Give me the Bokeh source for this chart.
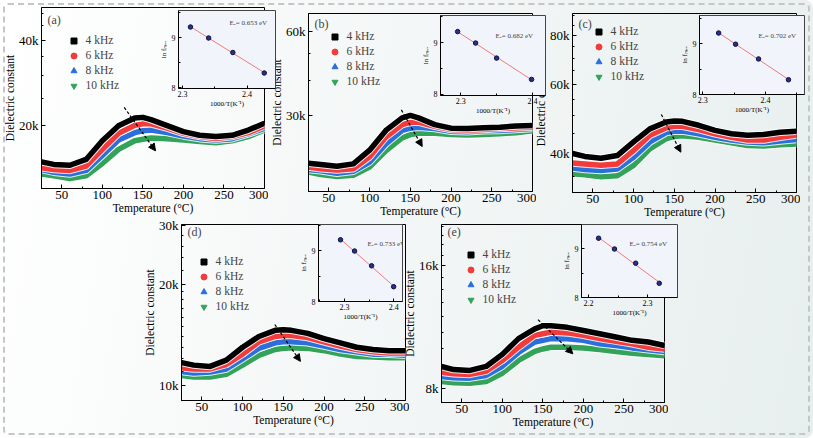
import numpy as np
from bokeh.plotting import figure
from bokeh.models import (FixedTicker, NumeralTickFormatter, Legend, LegendItem, Arrow,
                          NormalHead, Label, Column, Range1d)
from bokeh.embed import file_html
from bokeh.resources import INLINE

# ---------------- data ----------------
temps = [25, 40, 60, 80, 100, 120, 140, 150, 160, 180, 200, 220, 240, 260, 280, 300]
freq_labels = ["4 kHz", "6 kHz", "8 kHz", "10 kHz"]

a_4k = [14900, 14600, 14500, 15200, 17700, 20000, 21300, 21400, 21000, 20000, 19050, 18500, 18300, 18500, 19300, 20400]
a_6k = [14200, 14000, 13900, 14400, 16500, 18800, 20050, 20300, 20300, 19600, 18800, 18300, 18000, 18300, 18900, 19950]
a_8k = [14000, 13700, 13500, 13900, 15700, 17800, 18900, 19200, 19300, 18900, 18400, 18000, 17800, 18000, 18700, 19600]
a_10k = [13500, 13300, 13000, 13300, 14700, 16500, 17700, 17900, 18100, 18000, 17800, 17600, 17400, 17700, 18300, 19300]

b_4k = [20200, 20000, 19700, 20100, 22500, 26500, 29400, 30000, 29400, 27800, 27000, 26900, 27100, 27200, 27500, 27600]
b_6k = [19600, 19300, 19100, 19300, 21300, 25100, 27800, 28300, 28400, 27400, 26700, 26600, 26700, 26900, 27100, 27200]
b_8k = [19200, 19000, 18600, 18900, 20400, 23700, 26500, 27000, 27200, 26900, 26300, 26200, 26400, 26500, 26700, 26900]
b_10k = [18800, 18400, 18100, 18300, 19600, 22400, 24900, 25600, 25900, 25900, 25600, 25500, 25600, 25800, 26000, 26400]

c_4k = [40000, 39300, 38900, 39500, 42800, 46200, 48100, 48400, 48300, 47200, 45800, 44900, 44500, 44700, 45300, 45600]
c_6k = [37800, 37600, 37300, 37600, 40700, 44500, 46500, 46900, 46900, 46000, 44900, 44000, 43300, 43300, 44000, 44600]
c_8k = [36700, 36400, 36200, 36500, 39100, 42800, 45200, 45600, 45600, 44900, 44000, 43300, 42800, 42600, 43000, 43400]
c_10k = [35500, 35300, 34900, 35100, 37300, 41100, 43600, 44200, 44400, 44000, 43300, 42600, 41900, 41800, 42100, 42300]

d_4k = [11700, 11500, 11400, 11900, 13000, 14000, 14600, 14650, 14600, 14300, 13800, 13400, 13000, 12800, 12700, 12700]
d_6k = [11300, 11200, 11200, 11550, 12400, 13500, 14000, 14100, 14100, 13900, 13500, 13100, 12800, 12600, 12500, 12500]
d_8k = [11000, 10900, 10960, 11200, 12000, 12900, 13400, 13500, 13500, 13400, 13100, 12800, 12600, 12400, 12400, 12300]
d_10k = [10700, 10600, 10600, 10800, 11500, 12300, 12800, 12900, 12950, 12900, 12700, 12400, 12200, 12150, 12100, 12100]

e_4k = [9060, 8900, 8860, 9060, 9700, 10600, 11200, 11400, 11400, 11300, 11100, 10900, 10700, 10500, 10400, 10200]
e_6k = [8770, 8690, 8660, 8820, 9370, 10100, 10800, 10900, 11000, 10950, 10800, 10600, 10450, 10300, 10100, 10000]
e_8k = [8560, 8500, 8480, 8610, 9070, 9800, 10400, 10500, 10600, 10600, 10500, 10300, 10200, 10060, 9950, 9850]
e_10k = [8320, 8260, 8240, 8320, 8720, 9370, 9870, 10000, 10100, 10100, 10060, 9970, 9850, 9760, 9690, 9630]

# inset: ln f_max versus 1000/T  (10, 8, 6, 4 kHz)
lnf = [9.21, 8.99, 8.70, 8.29]
invT_a = [2.3125, 2.3406, 2.3780, 2.4266]
invT_b = [2.2958, 2.3208, 2.3500, 2.3986]
invT_c = [2.3254, 2.3524, 2.3889, 2.4365]
invT_d = [2.2918, 2.3204, 2.3551, 2.4000]
invT_e = [2.2170, 2.2440, 2.2800, 2.3200]
ea_texts = ["Eₐ= 0.653 eV", "Eₐ= 0.682 eV", "Eₐ= 0.702 eV", "Eₐ= 0.733 eV", "Eₐ= 0.754 eV"]

# arrows (temperature, permittivity) start -> end
arrow_a = [127, 23200, 165.6, 16300]
arrow_b = [139, 31400, 164.6, 23200]
arrow_c = [134, 50300, 158, 40300]
arrow_d = [139.5, 15200, 171, 11800]
arrow_e = [144, 11800, 187, 9730]

x_ticks = [50, 100, 150, 200, 250, 300]
x_minor = [25, 75, 125, 175, 225, 275]

# ---------------- style ----------------
FONT = "Liberation Serif"
colors = ["#000000", "#f23b3b", "#2a6fdc", "#34a35a"]
markers = ["square", "circle", "triangle", "inverted_triangle"]


def style_axis(ax, lab_size, tick_size, tin, mtin, lstand, astand):
    ax.major_tick_in = tin
    ax.major_tick_out = 0
    ax.minor_tick_in = mtin
    ax.minor_tick_out = 0
    ax.axis_line_color = "black"
    ax.major_tick_line_color = "black"
    ax.minor_tick_line_color = "black"
    ax.major_label_text_font = FONT
    ax.major_label_text_font_size = tick_size
    ax.major_label_text_color = "black"
    ax.axis_label_text_font = FONT
    ax.axis_label_text_font_size = lab_size
    ax.axis_label_text_font_style = "normal"
    ax.axis_label_text_color = "black"
    ax.major_label_standoff = lstand
    ax.axis_label_standoff = astand


def make_main(series, yr, yticks, yminor, fw, fh, left, top, btop, leg_xy, leg_sp, arrow, tag, tag_top):
    p = figure(frame_width=fw, frame_height=fh, x_range=Range1d(25, 300), y_range=Range1d(*yr),
               y_axis_type="log", output_backend="svg", toolbar_location=None,
               min_border_left=40, min_border_right=4, min_border_top=btop, min_border_bottom=30,
               styles={"position": "absolute", "left": f"{left}px", "top": f"{top}px"})
    p.background_fill_alpha = 0
    p.border_fill_alpha = 0
    p.outline_line_color = "black"
    p.outline_line_width = 1
    p.grid.visible = False
    p.xaxis.ticker = FixedTicker(ticks=x_ticks, minor_ticks=x_minor)
    p.yaxis.ticker = FixedTicker(ticks=yticks, minor_ticks=yminor)
    p.yaxis.formatter = NumeralTickFormatter(format="0a")
    p.xaxis.axis_label = "Temperature (°C)"
    p.yaxis.axis_label = "Dielectric constant"
    style_axis(p.xaxis[0], "11.5px", "13px", 4, 2, 2, 0)
    style_axis(p.yaxis[0], "11.5px", "13px", 4, 2, 3, 0)

    rends = [None] * 4
    for i in (3, 2, 1, 0):
        vals = series[i]
        p.line(temps, vals, line_color="white", line_alpha=0.85, line_width=7.5, line_join="round")
        p.line(temps, vals, line_color=colors[i], line_width=5.5, line_join="round")
        rends[i] = p.scatter(temps, vals, marker=markers[i], size=3,
                             fill_color=colors[i], line_color=colors[i])
    items = [LegendItem(label=freq_labels[i], renderers=[rends[i]]) for i in range(4)]
    leg = Legend(items=items, location=leg_xy, glyph_width=15, glyph_height=15,
                 label_height=14, label_standoff=5, spacing=leg_sp, padding=0, margin=0,
                 label_text_font=FONT, label_text_font_size="11.5px",
                 background_fill_alpha=0, border_line_alpha=0)
    p.add_layout(leg, "center")

    p.add_layout(Arrow(x_start=arrow[0], y_start=arrow[1], x_end=arrow[2], y_end=arrow[3],
                       line_color="black", line_width=1.2, line_dash="3 2",
                       end=NormalHead(size=7, fill_color="black", line_color="black")))
    p.add_layout(Label(x=6, y=fh - tag_top, x_units="screen", y_units="screen", text=tag,
                       text_font=FONT, text_font_size="12px", text_baseline="middle"))
    return p


def make_inset(xv, xr, yr, xticks, xminor, fw, fh, fleft, ftop, ea, ea_left, ea_top):
    q = figure(frame_width=fw, frame_height=fh, x_range=Range1d(*xr), y_range=Range1d(*yr),
               output_backend="svg", toolbar_location=None,
               min_border_left=24, min_border_top=2, min_border_right=24, min_border_bottom=22,
               styles={"position": "absolute", "left": f"{fleft - 24}px", "top": f"{ftop - 2}px"})
    q.background_fill_color = "#f1f5fb"
    q.border_fill_alpha = 0
    q.outline_line_color = "#444444"
    q.grid.visible = False
    q.xaxis.ticker = FixedTicker(ticks=xticks, minor_ticks=xminor)
    q.yaxis.ticker = FixedTicker(ticks=[8, 9], minor_ticks=[8.5, 9.5])
    q.xaxis.axis_label = "1000/T(K⁻¹)"
    q.yaxis.axis_label = "ln fₘₐₓ"
    style_axis(q.xaxis[0], "7px", "8px", 3, 2, 2, 0)
    style_axis(q.yaxis[0], "7px", "8px", 3, 2, 3, 1)
    coef = np.polyfit(xv, lnf, 1)
    xf = [min(xv), max(xv)]
    q.line(xf, list(np.polyval(coef, xf)), line_color="#f07a7a", line_width=1)
    q.scatter(xv, lnf, size=4.5, fill_color="#27308a", line_color="#0d1340")
    q.add_layout(Label(x=ea_left, y=fh - ea_top, x_units="screen", y_units="screen", text=ea,
                       text_font=FONT, text_font_size="7px", text_baseline="middle"))
    return q


pa = make_main([a_4k, a_6k, a_8k, a_10k], (12000, 52300), [20000, 40000],
               [15000, 25000, 30000, 35000, 45000, 50000], 223, 181, 0, 0, 7,
               (24.5, 95.5), -1, arrow_a, "(a)", 12)
pb = make_main([b_4k, b_6k, b_8k, b_10k], (16000, 69600), [30000, 60000],
               [20000, 40000, 50000], 224, 178, 267, 0, 13,
               (18.5, 102.5), -2, arrow_b, "(b)", 10)
pc = make_main([c_4k, c_6k, c_8k, c_10k], (31800, 91000), [40000, 60000, 80000],
               [35000, 45000, 50000, 55000, 65000, 70000, 75000, 85000, 90000], 224, 179, 531, 0, 13,
               (18.5, 108.5), -1, arrow_c, "(c)", 10)
pd_ = make_main([d_4k, d_6k, d_8k, d_10k], (9020, 30200), [10000, 20000, 30000],
                [11000, 12000, 13000, 14000, 15000, 16000, 17000, 18000, 19000, 22000, 24000, 26000, 28000],
                224, 176, 140, 210, 14, (14.5, 86.5), -1, arrow_d, "(d)", 7)
pe = make_main([e_4k, e_6k, e_8k, e_10k], (7390, 20200), [8000, 16000],
               [9000, 10000, 11000, 12000, 13000, 14000, 15000, 17000, 18000, 19000, 20000],
               223, 178, 400, 210, 14, (21.5, 95.5), -1, arrow_e, "(e)", 7)

ia = make_inset(invT_a, (2.294, 2.444), (7.98, 9.54), [2.3, 2.4], [2.35], 97, 78, 161, 10, ea_texts[0], 51, 12)
ib = make_inset(invT_b, (2.272, 2.418), (7.98, 9.52), [2.3, 2.4], [2.35], 105, 80, 423, 15, ea_texts[1], 55, 20)
ic = make_inset(invT_c, (2.295, 2.462), (8.0, 9.555), [2.3, 2.4], [2.35, 2.45], 105, 79, 682, 15, ea_texts[2], 59, 20)
idd = make_inset(invT_d, (2.247, 2.418), (8.0, 9.51), [2.3, 2.4], [2.25, 2.35], 84, 77, 301, 224, ea_texts[3], 49, 19)
ie = make_inset(invT_e, (2.188, 2.351), (8.0, 9.49), [2.2, 2.3], [2.25], 96, 73, 564, 224, ea_texts[4], 48, 19)

root = Column(children=[pa, pb, pc, pd_, pe, ia, ib, ic, idd, ie], width=813, height=438,
              sizing_mode="fixed",
              styles={"position": "relative",
                      "background": "linear-gradient(100deg, #ffffff 0%, #f4f7f7 45%, #e7efee 100%)",
                      "outline": "2px dashed #c6c6c6", "outline-offset": "-5px",
                      "border-radius": "8px"})

open("out.html", "w").write(file_html(root, INLINE))
